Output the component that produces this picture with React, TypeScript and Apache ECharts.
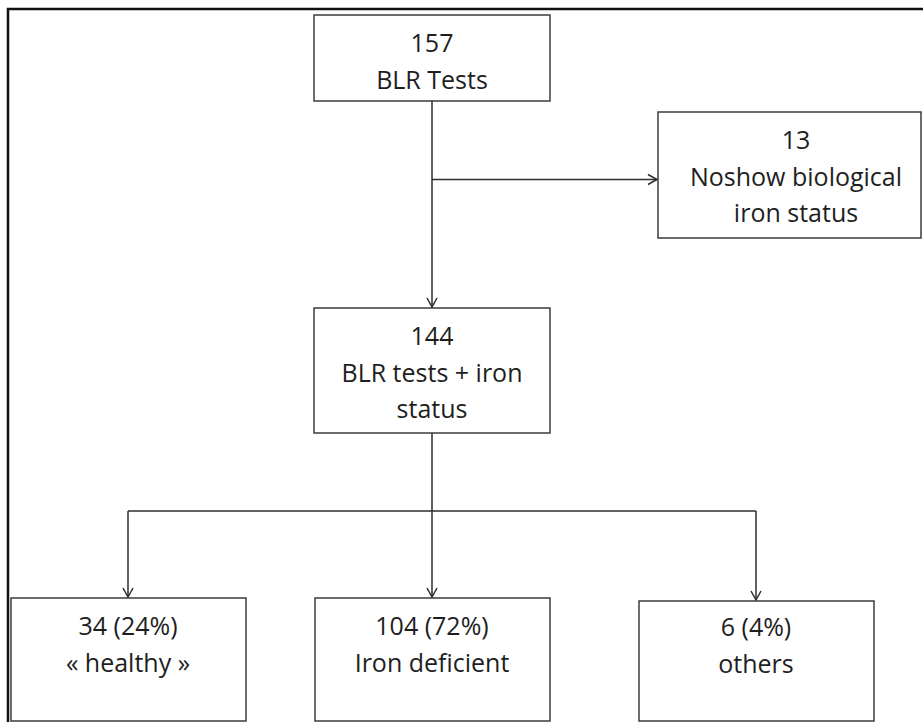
import React, { useEffect, useRef } from "react";
import * as echarts from "echarts";

// Flowchart content
const nodeCounts = ["157", "13", "144", "34 (24%)", "104 (72%)", "6 (4%)"];
const nodeLabels = [
  ["BLR Tests"],
  ["Noshow biological", "iron status"],
  ["BLR tests + iron", "status"],
  ["« healthy »"],
  ["Iron deficient"],
  ["others"],
];

// Layout (positions/sizes), kept separate from the content
const boxes = [
  { x: 314, y: 15, w: 236, h: 86, cx: 432, ty: 42 },
  { x: 658, y: 112, w: 263, h: 126, cx: 796, ty: 139 },
  { x: 314, y: 308, w: 236, h: 125, cx: 432, ty: 335 },
  { x: 11, y: 598, w: 235, h: 123, cx: 128, ty: 625 },
  { x: 315, y: 598, w: 235, h: 123, cx: 432, ty: 625 },
  { x: 639, y: 601, w: 235, h: 120, cx: 756, ty: 626 },
];

const FONT = '"Open Sans", "Noto Sans", sans-serif';
const FONT_SIZE = 25;
const LINE_H = 36.5;
const TEXT_COLOR = "#1e1e1e";
const BOX_COLOR = "#3c3c3c";
const LINK_COLOR = "#2e2e2e";

function arrowDown(x: number, y: number) {
  return {
    type: "polyline",
    shape: { points: [[x - 5, y - 9], [x, y], [x + 5, y - 9]] },
    style: { stroke: LINK_COLOR, lineWidth: 1.5, fill: "none" },
  };
}
function arrowRight(x: number, y: number) {
  return {
    type: "polyline",
    shape: { points: [[x - 9, y - 5], [x, y], [x - 9, y + 5]] },
    style: { stroke: LINK_COLOR, lineWidth: 1.5, fill: "none" },
  };
}
function seg(x1: number, y1: number, x2: number, y2: number) {
  return {
    type: "line",
    shape: { x1, y1, x2, y2 },
    style: { stroke: LINK_COLOR, lineWidth: 1.5 },
  };
}

export default function App() {
  const ref = useRef<HTMLDivElement>(null);
  useEffect(() => {
    if (!ref.current) return;
    const chart = echarts.init(ref.current, undefined, { renderer: "svg" });
    const elements: any[] = [];

    // outer frame (left and top edges)
    elements.push({
      type: "polyline",
      shape: { points: [[8, 722], [8, 9], [923, 9]] },
      style: { stroke: "#111", lineWidth: 2.5, fill: "none" },
    });

    boxes.forEach((b, i) => {
      elements.push({
        type: "rect",
        shape: { x: b.x, y: b.y, width: b.w, height: b.h },
        style: { stroke: BOX_COLOR, lineWidth: 1.5, fill: "#fff" },
      });
      const lines = [nodeCounts[i], ...nodeLabels[i]];
      lines.forEach((t, j) => {
        elements.push({
          type: "text",
          x: b.cx,
          y: b.ty + j * LINE_H,
          style: {
            text: t,
            align: "center",
            verticalAlign: "middle",
            fontSize: FONT_SIZE,
            fontFamily: FONT,
            fill: TEXT_COLOR,
          },
        });
      });
    });

    // connectors
    elements.push(seg(432, 101, 432, 307));
    elements.push(arrowDown(432, 307));
    elements.push(seg(432, 179.5, 657, 179.5));
    elements.push(arrowRight(657, 179.5));
    elements.push(seg(432, 433, 432, 597));
    elements.push(arrowDown(432, 597));
    elements.push(seg(128, 511, 756, 511));
    elements.push(seg(128, 511, 128, 597));
    elements.push(arrowDown(128, 597));
    elements.push(seg(756, 511, 756, 600));
    elements.push(arrowDown(756, 600));

    chart.setOption({
      animation: false,
      backgroundColor: "#fff",
      graphic: elements,
    });
    return () => chart.dispose();
  }, []);
  return (
    <div
      ref={ref}
      style={{ position: "fixed", left: 0, top: 0, width: 923, height: 722 }}
    />
  );
}
